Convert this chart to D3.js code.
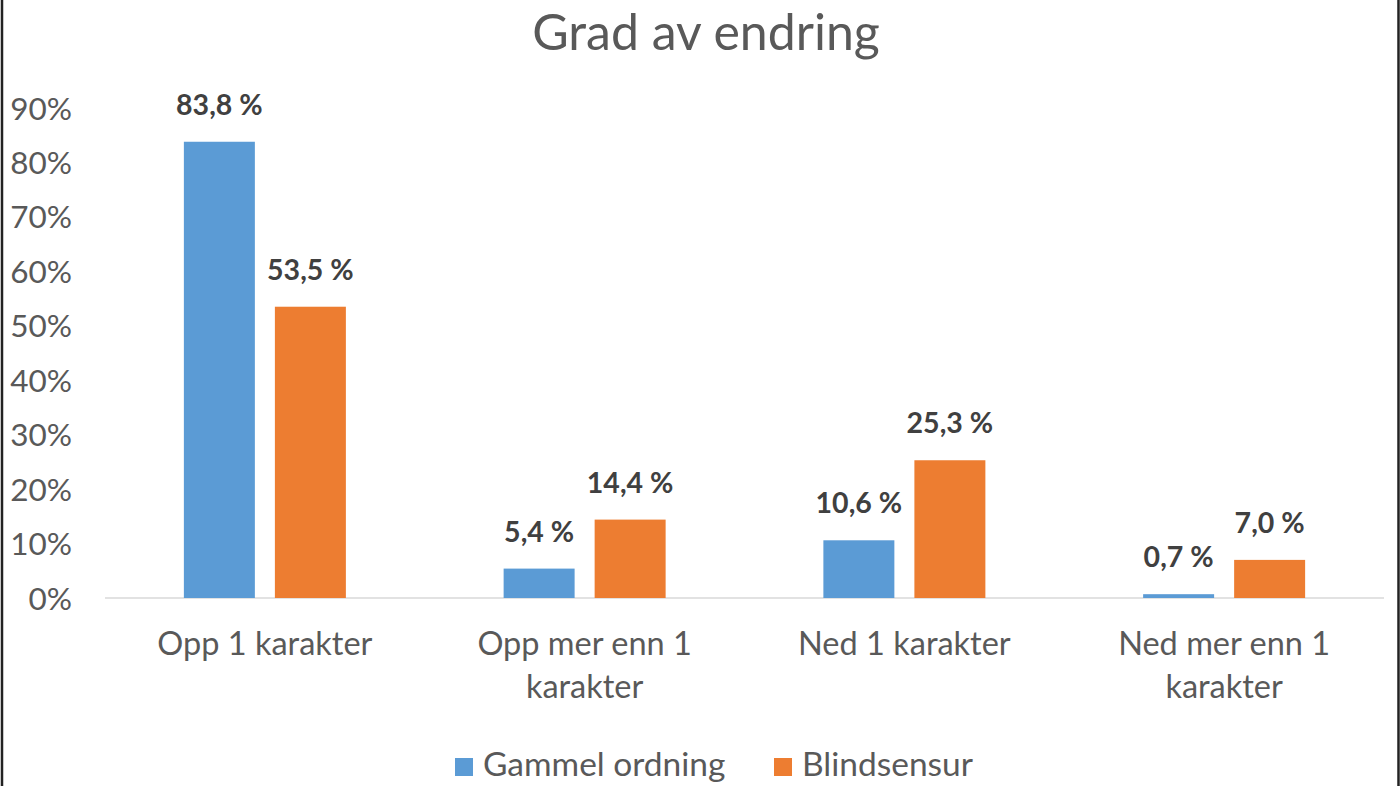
<!DOCTYPE html>
<html>
<head>
<meta charset="utf-8">
<script src="https://cdn.jsdelivr.net/npm/d3@7"></script>
<style>
  html, body { margin: 0; padding: 0; background: #fff; }
  svg { display: block; }
  text { font-family: Lato, "Open Sans", sans-serif; }
</style>
</head>
<body>
<svg id="chart" width="1400" height="786"></svg>
<script>
const title = "Grad av endring";
const categories = [["Opp 1 karakter"], ["Opp mer enn 1", "karakter"], ["Ned 1 karakter"], ["Ned mer enn 1", "karakter"]];
const seriesNames = ["Gammel ordning", "Blindsensur"];
const gammel = [0.838, 0.054, 0.106, 0.007];
const blind = [0.535, 0.144, 0.253, 0.070];
const gammelLabels = ["83,8 %", "5,4 %", "10,6 %", "0,7 %"];
const blindLabels = ["53,5 %", "14,4 %", "25,3 %", "7,0 %"];
const yTicks = [0, 0.1, 0.2, 0.3, 0.4, 0.5, 0.6, 0.7, 0.8, 0.9];
const colors = ["#5B9BD5", "#ED7D31"];

const svg = d3.select("#chart");
const W = 1400, H = 786;

// frame (left and right edges)
svg.append("rect").attr("x", 2).attr("y", -5).attr("width", 1396.5).attr("height", H + 10)
  .attr("fill", "none").attr("stroke", "#222").attr("stroke-width", 2.5);

const plotLeft = 105, plotRight = 1384, plotBase = 598, plotTop = 108;
const catIdx = categories.map((d, i) => i);
const x0 = d3.scaleBand().domain(catIdx).range([plotLeft, plotRight]).padding(0);
const groupW = 162;
const x1 = d3.scaleBand().domain([0, 1]).range([0, groupW]).paddingInner(0.22).paddingOuter(0);
const y = d3.scaleLinear().domain([0, 0.9]).range([plotBase, plotTop]);

// title
svg.append("text").attr("x", 706).attr("y", 50).attr("text-anchor", "middle")
  .attr("font-size", 50).attr("fill", "#595959").text(title);

// y axis labels
const yAxis = d3.axisLeft(y).tickValues(yTicks).tickFormat(d => Math.round(d * 100) + "%").tickSize(0).tickPadding(0);
const yg = svg.append("g").attr("transform", `translate(72,0)`).call(yAxis);
yg.select(".domain").remove();
yg.selectAll("text").attr("font-size", 31.5).attr("fill", "#595959").attr("dy", "0.35em")
  .style("font-family", "Lato, 'Open Sans', sans-serif");

// baseline
svg.append("line").attr("x1", plotLeft).attr("x2", plotRight).attr("y1", plotBase).attr("y2", plotBase)
  .attr("stroke", "#d9d9d9").attr("stroke-width", 1.5);

const series = [gammel, blind];
const labels = [gammelLabels, blindLabels];
series.forEach((vals, s) => {
  const g = svg.append("g");
  g.selectAll("rect").data(vals).join("rect")
    .attr("x", (d, i) => x0(i) + x0.bandwidth() / 2 - groupW / 2 + x1(s))
    .attr("y", d => y(d))
    .attr("width", x1.bandwidth())
    .attr("height", d => plotBase - y(d))
    .attr("fill", colors[s]);
  g.selectAll("text").data(vals).join("text")
    .attr("x", (d, i) => x0(i) + x0.bandwidth() / 2 - groupW / 2 + x1(s) + x1.bandwidth() / 2)
    .attr("y", d => y(d) - 27)
    .attr("text-anchor", "middle")
    .attr("font-size", 28.5).attr("font-weight", "bold").attr("fill", "#404040")
    .text((d, i) => labels[s][i]);
});

// category labels
const cg = svg.append("g");
categories.forEach((lines, i) => {
  const t = cg.append("text").attr("text-anchor", "middle").attr("font-size", 32.5).attr("fill", "#595959");
  lines.forEach((ln, j) => {
    t.append("tspan").attr("x", x0(i) + x0.bandwidth() / 2).attr("y", 655 + j * 43).text(ln);
  });
});

// legend
const legendItems = [
  { name: seriesNames[0], color: colors[0], x: 455 },
  { name: seriesNames[1], color: colors[1], x: 774 }
];
legendItems.forEach(d => {
  svg.append("rect").attr("x", d.x).attr("y", 758).attr("width", 18).attr("height", 18).attr("fill", d.color);
  svg.append("text").attr("x", d.x + 28).attr("y", 776).attr("font-size", 33.5).attr("fill", "#595959").text(d.name);
});
</script>
</body>
</html>
